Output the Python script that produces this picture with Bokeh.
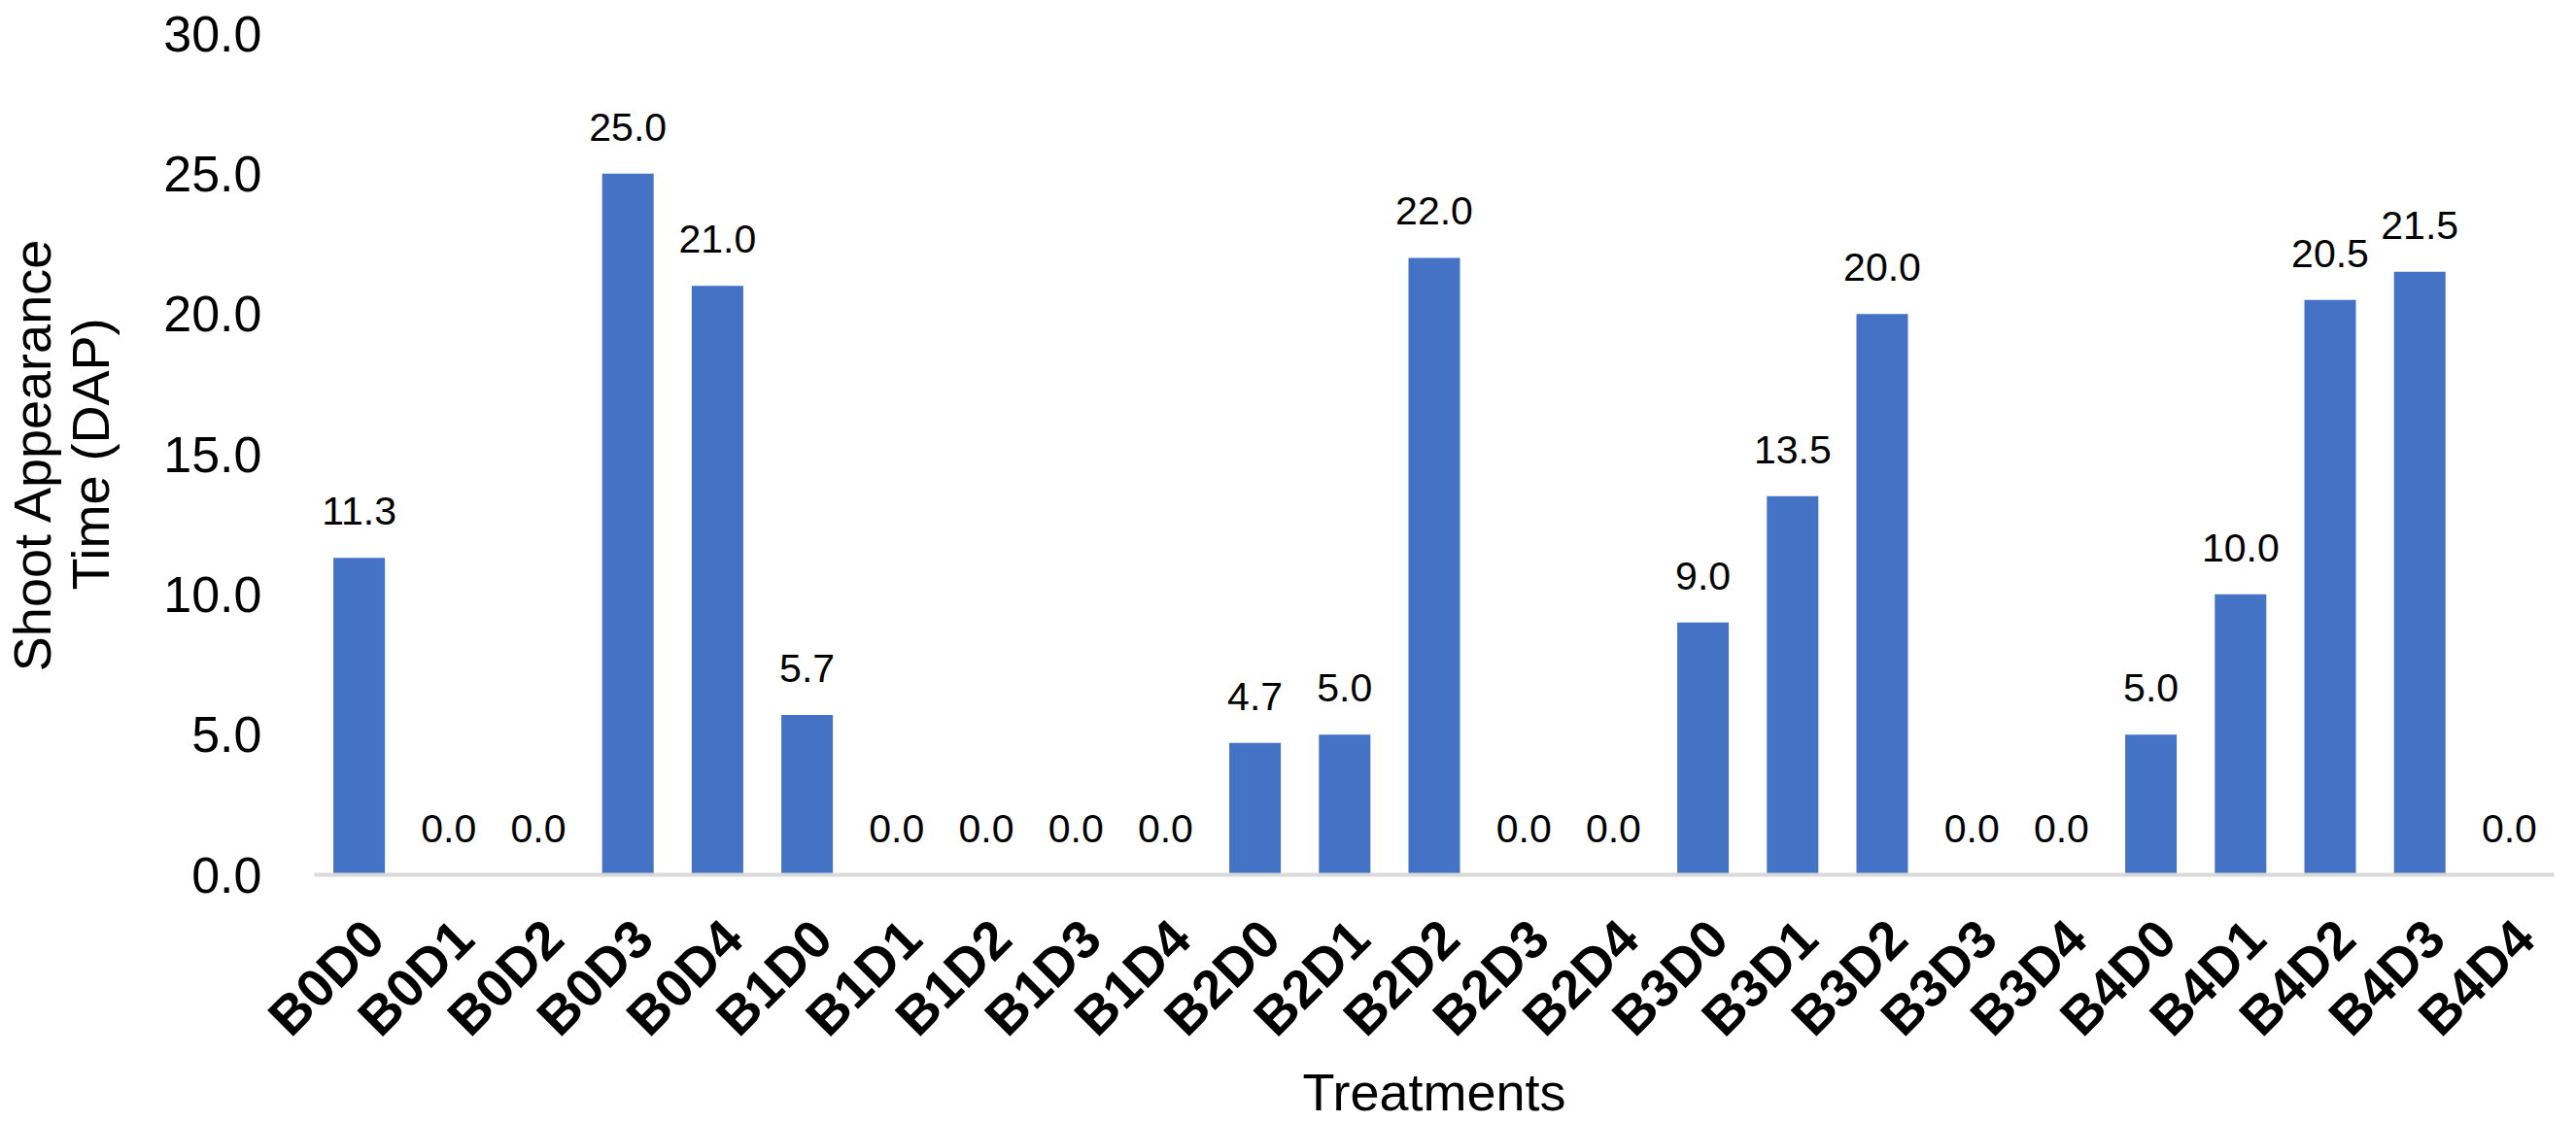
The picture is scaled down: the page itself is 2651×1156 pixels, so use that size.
import math

from bokeh.core.properties import value
from bokeh.embed import file_html
from bokeh.models import (ColumnDataSource, FixedTicker, LinearAxis,
                          LinearScale, NumeralTickFormatter, Range1d)
from bokeh.plotting import figure
from bokeh.resources import INLINE

# Treatment combinations (B = level 0-4, D = level 0-4)
treatments = [
    "B0D0", "B0D1", "B0D2", "B0D3", "B0D4",
    "B1D0", "B1D1", "B1D2", "B1D3", "B1D4",
    "B2D0", "B2D1", "B2D2", "B2D3", "B2D4",
    "B3D0", "B3D1", "B3D2", "B3D3", "B3D4",
    "B4D0", "B4D1", "B4D2", "B4D3", "B4D4",
]

# Shoot appearance time, days after planting
shoot_time = [
    11.3, 0.0, 0.0, 25.0, 21.0,
    5.7, 0.0, 0.0, 0.0, 0.0,
    4.7, 5.0, 22.0, 0.0, 0.0,
    9.0, 13.5, 20.0, 0.0, 0.0,
    5.0, 10.0, 20.5, 21.5, 0.0,
]

y_ticks = [0, 5, 10, 15, 20, 25, 30]

FONT = "Liberation Sans"
BAR_COLOR = "#4472C4"
LABEL_SHIFT = 0.17  # nudge slanted category labels so their ends sit at the bar

n = len(treatments)
positions = list(range(n))

source = ColumnDataSource(dict(
    pos=positions,
    v=shoot_time,
    lbl=[f"{v:.1f}" for v in shoot_time],
))

p = figure(
    x_range=Range1d(-0.5, n - 0.5),
    y_range=Range1d(0, 30),
    width=2651, height=1156,
    x_axis_location=None,
    output_backend="svg", toolbar_location=None,
    min_border_left=323, min_border_right=23,
    min_border_top=34, min_border_bottom=256,
)
p.outline_line_color = None
p.background_fill_color = "white"
p.border_fill_color = "white"
p.xgrid.grid_line_color = None
p.ygrid.grid_line_color = None

p.vbar(x="pos", top="v", width=0.575, source=source,
       fill_color=BAR_COLOR, line_color=None)

# value labels above each bar
p.text(x="pos", y="v", text="lbl", source=source,
       text_align="center", text_baseline="alphabetic", y_offset=-48,
       text_font=value(FONT), text_font_size="41px", text_color="black")

# y axis
yax = p.yaxis[0]
yax.ticker = FixedTicker(ticks=y_ticks)
yax.formatter = NumeralTickFormatter(format="0.0")
yax.axis_line_color = None
yax.major_tick_line_color = None
yax.minor_tick_line_color = None
yax.major_label_text_font = FONT
yax.major_label_text_font_size = "52px"
yax.major_label_text_color = "black"
yax.major_label_standoff = 48
yax.axis_label = "Shoot Appearance\nTime (DAP)"
yax.axis_label_text_font = FONT
yax.axis_label_text_font_size = "54px"
yax.axis_label_text_font_style = "normal"
yax.axis_label_text_color = "black"
yax.axis_label_text_line_height = 1.0
yax.axis_label_standoff = 42

# treatment axis on a companion range, labelled with the treatment names
p.extra_x_ranges["cat_labels"] = Range1d(-0.5 - LABEL_SHIFT, n - 0.5 - LABEL_SHIFT)
p.extra_x_scales["cat_labels"] = LinearScale()
xax = LinearAxis(
    x_range_name="cat_labels",
    ticker=FixedTicker(ticks=positions),
    major_label_overrides={i: name for i, name in zip(positions, treatments)},
)
xax.axis_line_color = "#d9d9d9"
xax.axis_line_width = 4
xax.major_tick_line_color = None
xax.minor_tick_line_color = None
xax.major_label_orientation = math.pi / 4
xax.major_label_text_font = FONT
xax.major_label_text_font_size = "55px"
xax.major_label_text_font_style = "bold"
xax.major_label_text_color = "black"
xax.major_label_standoff = 50
xax.axis_label = "Treatments"
xax.axis_label_text_font = FONT
xax.axis_label_text_font_size = "54px"
xax.axis_label_text_font_style = "normal"
xax.axis_label_text_color = "black"
xax.axis_label_standoff = -9
p.add_layout(xax, "below")

with open("out.html", "w") as f:
    f.write(file_html(p, INLINE))
